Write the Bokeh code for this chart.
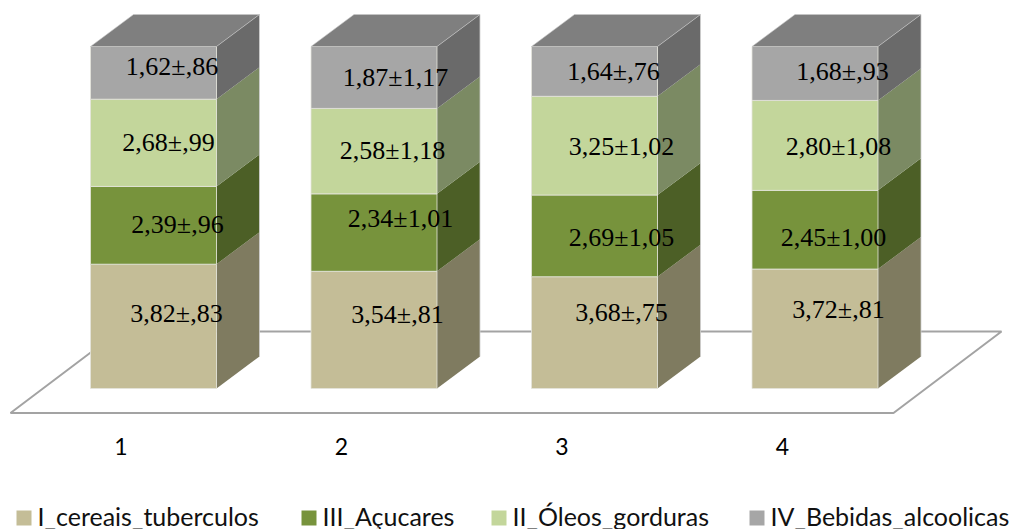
from bokeh.embed import file_html
from bokeh.resources import INLINE
from bokeh.plotting import figure
from bokeh.core.properties import value

categories = ["1", "2", "3", "4"]
series_names = ["I_cereais_tuberculos", "III_Açucares", "II_Óleos_gorduras", "IV_Bebidas_alcoolicas"]
cereais = [3.82, 3.54, 3.68, 3.72]
acucares = [2.39, 2.34, 2.69, 2.45]
oleos = [2.68, 2.58, 3.25, 2.80]
bebidas = [1.62, 1.87, 1.64, 1.68]
cereais_sd = [",83", ",81", ",75", ",81"]
acucares_sd = [",96", "1,01", "1,05", "1,00"]
oleos_sd = [",99", "1,18", "1,02", "1,08"]
bebidas_sd = [",86", "1,17", ",76", ",93"]

front_colors = ["#c4bd97", "#77933c", "#c3d69b", "#a6a6a6"]
side_colors = ["#7f7b60", "#4c5f26", "#7b8a63", "#6a6a6a"]
top_color = "#7f7f7f"
edge_color = "#e4e4dc"
side_edge = "#cfcfcf"

# Hand placement of the value labels around each segment centre (pixels per stack)
label_dx = [[22.5, 23, 26.5, 23], [23.5, 26, 26.5, 18], [14.5, 18, 26.5, 23], [18, 21, 18.5, 27]]
label_dy = [[-13, -15, -20, -19], [-1, -14, 2, 8], [-0.5, -1, 1, 1], [-6.5, 0, 0, -2]]

W, H = 1011, 529
px_per_cat = 220.5          # horizontal spacing of the stacks
px_per_pct = 3.42           # vertical pixels per percentage point
base_px = 388               # baseline of the front faces
first_px = 153              # centre of the first stack's front face
half_w = 63 / px_per_cat
depth_x = 43 / px_per_cat
depth_y = 32 / px_per_pct


def sx(px):
    return (px - first_px) / px_per_cat


def sy(px):
    return (base_px - px) / px_per_pct


p = figure(width=W, height=H, output_backend="svg", toolbar_location=None,
           x_range=(sx(0), sx(W)), y_range=(sy(H), sy(0)),
           min_border=0, outline_line_color=None, background_fill_color="white",
           border_fill_color="white")
p.grid.visible = False
p.xaxis.visible = False
p.yaxis.visible = False

# Floor of the 3D plot area
p.patch([sx(10), sx(893), sx(1001), sx(118)], [sy(412.5), sy(412.5), sy(331), sy(331)],
        fill_color="white", line_color="#a3a3a3", line_width=2)

all_series = [cereais, acucares, oleos, bebidas]
all_sd = [cereais_sd, acucares_sd, oleos_sd, bebidas_sd]
xs = list(range(len(categories)))

lab_x, lab_y, lab_t, lab_xo, lab_yo = [], [], [], [], []
for i in xs:
    total = sum(s[i] for s in all_series)
    bottom = 0.0
    left, right = i - half_w, i + half_w
    for k, s in enumerate(all_series):
        top = bottom + s[i] / total * 100
        # right-hand side of the segment
        p.patch([right, right + depth_x, right + depth_x, right],
                [bottom, bottom + depth_y, top + depth_y, top],
                fill_color=side_colors[k], line_color=None)
        # front face
        p.quad(left=left, right=right, bottom=bottom, top=top,
               fill_color=front_colors[k], line_color=edge_color, line_width=0.8)
        lab_x.append(i)
        lab_y.append((bottom + top) / 2)
        lab_t.append(f"{s[i]:.2f}".replace(".", ",") + "±" + all_sd[k][i])
        lab_xo.append(label_dx[k][i] + 0.5)
        lab_yo.append(label_dy[k][i])
        bottom = top
    p.line([right + depth_x, right + depth_x], [depth_y, 100 + depth_y],
           line_color=side_edge, line_width=0.8)
    p.patch([left, right, right + depth_x, left + depth_x],
            [100, 100, 100 + depth_y, 100 + depth_y],
            fill_color=top_color, line_color="#c8c8c8", line_width=0.6)

p.text(x=lab_x, y=lab_y, text=lab_t, x_offset=lab_xo, y_offset=lab_yo,
       text_font=value("Liberation Serif"), text_font_size="26px", text_color="black",
       text_align="center", text_baseline="middle")

# Category labels sit under the floor, shifted left with the perspective
p.text(x=xs, y=[sy(446)] * 4, text=categories, x_offset=-32.5,
       text_font=value("Lato"), text_font_size="23px", text_color="black",
       text_align="center", text_baseline="middle")

# Legend row
legend_x_px = [16, 301, 491, 749]
for name, color, lx in zip(series_names, front_colors, legend_x_px):
    p.quad(left=sx(lx), right=sx(lx + 15), bottom=sy(525), top=sy(510),
           fill_color=color, line_color=None)
    p.text(x=[sx(lx + 21)], y=[sy(515)], text=[name],
           text_font=value("Lato"), text_font_size="25px", text_color="#111111",
           text_align="left", text_baseline="middle")

open("out.html", "w").write(file_html(p, INLINE))
